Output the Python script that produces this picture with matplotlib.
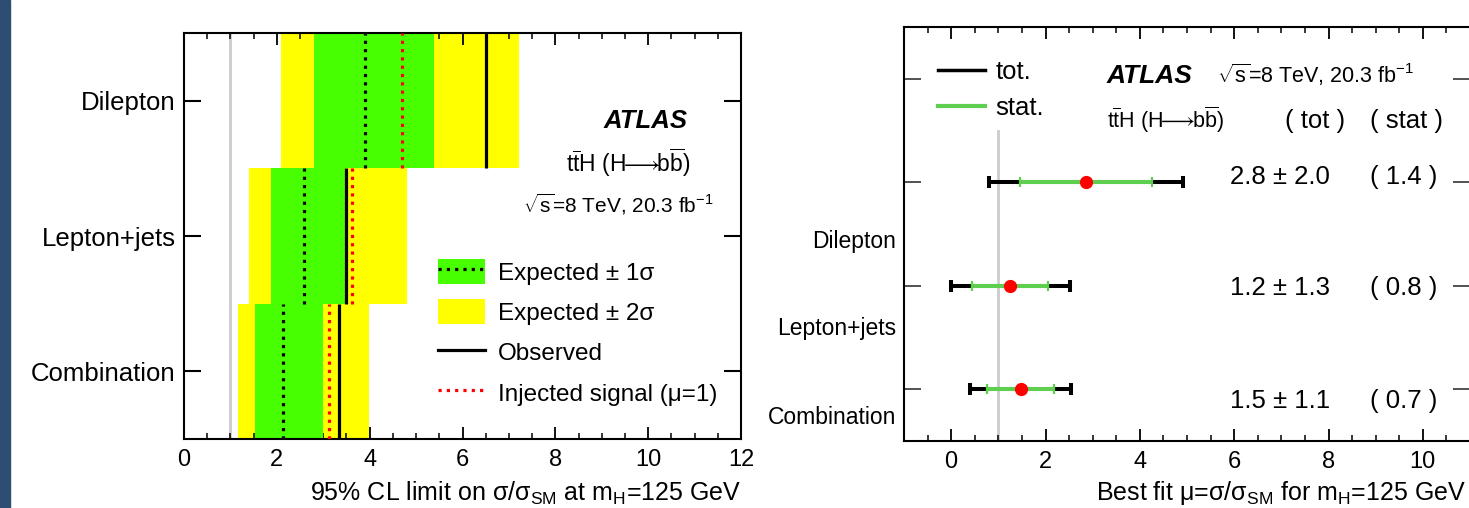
import numpy as np
import matplotlib
matplotlib.use('Agg')
import matplotlib.pyplot as plt
from matplotlib.patches import Patch, Rectangle
from matplotlib.lines import Line2D
from matplotlib.legend_handler import HandlerTuple
from matplotlib.ticker import MultipleLocator

plt.rcParams['font.family'] = ['Liberation Sans', 'DejaVu Sans']
plt.rcParams['mathtext.fontset'] = 'custom'
plt.rcParams['mathtext.rm'] = 'Liberation Sans'
plt.rcParams['mathtext.it'] = 'Liberation Sans:italic'
plt.rcParams['mathtext.bf'] = 'Liberation Sans:bold'

# left panel: 95% CL limits
channels = ['Dilepton', 'Lepton+jets', 'Combination']
ypos = [2.5, 1.5, 0.5]
exp_2s_lo = [2.09, 1.40, 1.17]
exp_2s_hi = [7.22, 4.80, 3.99]
exp_1s_lo = [2.81, 1.87, 1.54]
exp_1s_hi = [5.39, 3.47, 3.00]
expected = [3.89, 2.59, 2.14]
observed = [6.51, 3.48, 3.33]
injected = [4.70, 3.62, 3.12]

# right panel: best fit mu
mu_ypos = [2.5, 1.5, 0.5]
mu = [2.85, 1.25, 1.48]
tot_lo = [2.04, 1.26, 1.08]
tot_hi = [2.07, 1.28, 1.07]
stat_lo = [1.40, 0.80, 0.71]
stat_hi = [1.41, 0.81, 0.71]
mu_text = ['2.8 ± 2.0', '1.2 ± 1.3', '1.5 ± 1.1']
stat_text = ['( 1.4 )', '( 0.8 )', '( 0.7 )']
text_y = [2.48, 1.41, 0.32]
label_y = [1.93, 1.09, 0.23]

W, H = 1469, 508
fig = plt.figure(figsize=(W / 100, H / 100), dpi=100)
fig.patches.append(Rectangle((0, 0), 10 / W, 1, transform=fig.transFigure,
                             color='#2d4e73', zorder=0))

def px_axes(l, t, r, b):
    return fig.add_axes([l / W, 1 - b / H, (r - l) / W, (b - t) / H])

GREEN = '#47ff00'
YELLOW = '#ffff00'
STATG = '#5fcf4f'
DOTS = (0, (1, 1.6))
TTH = r'$\mathrm{t\overline{t}H\ (H\!\!\longrightarrow\!\! b\overline{b})}$'

ax = px_axes(184, 33, 741, 439)
for i in range(3):
    y = ypos[i]
    ax.barh(y, exp_2s_hi[i] - exp_2s_lo[i], left=exp_2s_lo[i], height=1.0,
            color=YELLOW, lw=0, zorder=1)
    ax.barh(y, exp_1s_hi[i] - exp_1s_lo[i], left=exp_1s_lo[i], height=1.0,
            color=GREEN, lw=0, zorder=2)
    ax.vlines(expected[i], y - 0.5, y + 0.5, colors='black', lw=2.3,
              linestyles=DOTS, zorder=4)
    ax.vlines(observed[i], y - 0.5, y + 0.5, colors='black', lw=2.3, zorder=4)
    ax.vlines(injected[i], y - 0.5, y + 0.5, colors='red', lw=2.3,
              linestyles=DOTS, zorder=5)
ax.axvline(1, color='#cccccc', lw=2, zorder=0.5)
ax.set_xlim(0, 12)
ax.set_ylim(0, 3)
ax.set_yticks(ypos)
ax.set_yticklabels(channels, fontsize=18.5)
ax.xaxis.set_major_locator(MultipleLocator(2))
ax.xaxis.set_minor_locator(MultipleLocator(0.5))
ax.tick_params(axis='x', which='major', direction='in', length=8.6, width=1.3,
               top=True, labelsize=17, pad=7)
ax.tick_params(axis='x', which='minor', direction='in', length=4.3, width=1.1, top=True)
ax.tick_params(axis='y', which='major', direction='in', length=12, width=1.5,
               right=True, pad=6)
for s in ax.spines.values():
    s.set_linewidth(1.5)

ax.text(0.754, 0.766, 'ATLAS', transform=ax.transAxes, fontsize=18.5,
        fontweight='bold', fontstyle='italic', va='baseline')
ax.text(0.685, 0.658, TTH, transform=ax.transAxes, fontsize=16.5, va='baseline')
ax.text(0.609, 0.557, r'$\sqrt{\mathrm{s}}$=8 TeV, 20.3 fb$^{-1}$', transform=ax.transAxes,
        fontsize=15, va='baseline')

handles = [(Patch(facecolor=GREEN, lw=0),
            Line2D([], [], color='black', lw=2.3, ls=DOTS)),
           Patch(facecolor=YELLOW, lw=0),
           Line2D([], [], color='black', lw=2.3),
           Line2D([], [], color='red', lw=2.3, ls=DOTS)]
labels = ['Expected ± 1σ', 'Expected ± 2σ', 'Observed', 'Injected signal (μ=1)']
ax.legend(handles, labels, loc='upper left', bbox_to_anchor=(0.456, 0.443),
          frameon=False, fontsize=17.5, borderpad=0, borderaxespad=0,
          handlelength=1.95, handleheight=1.2, handletextpad=0.5,
          labelspacing=0.6, handler_map={tuple: HandlerTuple(ndivide=1, pad=0)})

fig.text(741 / W, 1 / H, r'95% CL limit on σ/σ$_{\rm SM}$ at m$_{\rm H}$=125 GeV',
         ha='right', va='bottom', fontsize=18)

# right panel
bx = px_axes(904, 27, 1470, 441)
bx.axvline(1, ymin=0, ymax=0.75, color='#cccccc', lw=2, zorder=0.5)
bx.errorbar(mu, mu_ypos, xerr=[tot_lo, tot_hi], fmt='none', ecolor='black',
            elinewidth=2.9, capsize=4.5, capthick=2.9, zorder=2)
bx.errorbar(mu, mu_ypos, xerr=[stat_lo, stat_hi], fmt='none', ecolor=STATG,
            elinewidth=2.9, capsize=3.5, capthick=1.6, zorder=3)
bx.plot(mu, mu_ypos, 'o', color='red', ms=8.5, mec='red', zorder=4)
bx.set_xlim(-1, 11)
bx.set_ylim(0, 4)
bx.set_yticks([0.5, 1.5, 2.5, 3.5])
bx.set_yticklabels([])
bx.xaxis.set_major_locator(MultipleLocator(2))
bx.xaxis.set_minor_locator(MultipleLocator(0.5))
bx.tick_params(axis='x', which='major', direction='in', length=8.6, width=1.3,
               top=True, labelsize=17, pad=7)
bx.tick_params(axis='x', which='minor', direction='in', length=4.3, width=1.1, top=True)
bx.tick_params(axis='y', which='major', direction='in', length=12, width=1.3,
               right=True, color='#444444')
for s in bx.spines.values():
    s.set_linewidth(1.5)

for name, yl in zip(channels, label_y):
    bx.text(-0.014, yl, name, transform=bx.get_yaxis_transform(), ha='right',
            va='center', fontsize=16.5)

for i in range(3):
    bx.text(5.915, text_y[i], mu_text[i], fontsize=18.5, va='baseline')
    bx.text(9.6, text_y[i], stat_text[i], fontsize=18.5, va='baseline', ha='center')

bx.text(0.358, 0.865, 'ATLAS', transform=bx.transAxes, fontsize=19,
        fontweight='bold', fontstyle='italic', va='baseline')
bx.text(0.553, 0.865, r'$\sqrt{\mathrm{s}}$=8 TeV, 20.3 fb$^{-1}$', transform=bx.transAxes,
        fontsize=15.5, va='baseline')
bx.text(0.358, 0.756, TTH, transform=bx.transAxes, fontsize=15.5, va='baseline')
bx.text(0.726, 0.756, '( tot )', transform=bx.transAxes, fontsize=18.5,
        va='baseline', ha='center')
bx.text(0.887, 0.756, '( stat )', transform=bx.transAxes, fontsize=18.5,
        va='baseline', ha='center')

bx.legend([Line2D([], [], color='black', lw=2.5), Line2D([], [], color=STATG, lw=3)],
          ['tot.', 'stat.'], loc='upper left', bbox_to_anchor=(0.060, 0.92),
          frameon=False, fontsize=18.5, borderpad=0, borderaxespad=0,
          handlelength=1.85, handletextpad=0.4, labelspacing=0.45)

fig.text(1466 / W, 1 / H, r'Best fit μ=σ/σ$_{\rm SM}$ for m$_{\rm H}$=125 GeV',
         ha='right', va='bottom', fontsize=18)

fig.savefig('out.png', dpi=100)
